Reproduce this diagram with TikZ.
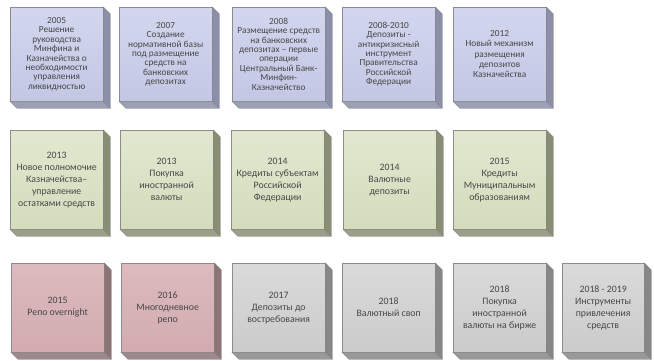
\documentclass[tikz,border=0pt]{standalone}
\usepackage{fontspec}
\setmainfont{Carlito}
\usepackage{tikz}
\usetikzlibrary{positioning}

\definecolor{bluetop}{HTML}{D3D6EE}
\definecolor{bluebot}{HTML}{C3C7E4}
\definecolor{blueside}{HTML}{8B8FA8}
\definecolor{greentop}{HTML}{E2E8D0}
\definecolor{greenbot}{HTML}{D3DCBC}
\definecolor{greenside}{HTML}{878E74}
\definecolor{pinktop}{HTML}{DCBABE}
\definecolor{pinkbot}{HTML}{D2ABB0}
\definecolor{pinkside}{HTML}{8C7476}
\definecolor{greytop}{HTML}{DADADA}
\definecolor{greybot}{HTML}{CBCBCB}
\definecolor{greyside}{HTML}{878787}

\begin{document}
\begin{tikzpicture}[x=1pt,y=-1pt,
    blk/.style={draw=black!45,line width=0.3pt,anchor=north west,
      minimum width=93pt,inner sep=1pt,align=center,text=black!72},
    toprow/.style={blk,top color=bluetop,bottom color=bluebot,minimum height=94pt,
      font=\fontsize{9.3}{9.4}\selectfont},
    midrow/.style={blk,top color=greentop,bottom color=greenbot,minimum height=99pt,
      font=\fontsize{9.8}{12}\selectfont},
    pinkrow/.style={blk,top color=pinktop,bottom color=pinkbot,minimum height=89pt,
      font=\fontsize{9.8}{12}\selectfont},
    greyrow/.style={blk,top color=greytop,bottom color=greybot,minimum height=89pt,
      font=\fontsize{9.8}{12}\selectfont}]
  \useasboundingbox (0,0) rectangle (654,360);
  % 1st row
  \node [toprow] (a1) at (10,7) {2005\\Решение\\руководства\\Минфина и\\Казначейства о\\необходимости\\управления\\ликвидностью};
  \node [toprow] (a2) at (119,7) {2007\\Создание\\нормативной базы\\под размещение\\средств на\\банковских\\депозитах};
  \node [toprow] (a3) at (232,7) {2008\\Размещение средств\\на банковских\\депозитах – первые\\операции\\Центральный Банк-\\Минфин-\\Казначейство};
  \node [toprow] (a4) at (342,7) {2008-2010\\Депозиты -\\антикризисный\\инструмент\\Правительства\\Российской\\Федерации};
  \node [toprow,font=\fontsize{9.3}{10.2}\selectfont] (a5) at (453,7) {2012\\Новый механизм\\размещения\\депозитов\\Казначейства};
  % 2nd row
  \node [midrow] (b1) at (10,130) {2013\\Новое полномочие\\Казначейства–\\управление\\остатками средств};
  \node [midrow] (b2) at (120,130) {2013\\Покупка\\иностранной\\валюты};
  \node [midrow] (b3) at (231,130) {2014\\Кредиты субъектам\\Российской\\Федерации};
  \node [midrow] (b4) at (343,130) {2014\\Валютные\\депозиты};
  \node [midrow] (b5) at (453,130) {2015\\Кредиты\\Муниципальным\\образованиям};
  % 3rd row
  \node [pinkrow] (c1) at (11,263) {2015\\Репо overnight};
  \node [pinkrow] (c2) at (121,263) {2016\\Многодневное\\репо};
  \node [greyrow] (c3) at (232,263) {2017\\Депозиты до\\востребования};
  \node [greyrow] (c4) at (342,263) {2018\\Валютный своп};
  \node [greyrow] (c5) at (453,263) {2018\\Покупка\\иностранной\\валюты на бирже};
  \node [greyrow,minimum width=82pt] (c6) at (562,263) {2018 - 2019\\Инструменты\\привлечения\\средств};
  % depth of the boxes
  \foreach \n/\c in {a1/blueside,a2/blueside,a3/blueside,a4/blueside,a5/blueside,
      b1/greenside,b2/greenside,b3/greenside,b4/greenside,b5/greenside,
      c1/pinkside,c2/pinkside,c3/greyside,c4/greyside,c5/greyside,c6/greyside} {
    \filldraw [fill=\c!85!white,draw=black!50,line width=0.3pt]
      (\n.south west) -- ++(7,7) -- ([shift={(7,7)}]\n.south east) -- (\n.south east) -- cycle;
    \filldraw [fill=\c,draw=black!50,line width=0.3pt]
      (\n.north east) -- ++(7,7) -- ([shift={(7,7)}]\n.south east) -- (\n.south east) -- cycle;
  }
\end{tikzpicture}
\end{document}
